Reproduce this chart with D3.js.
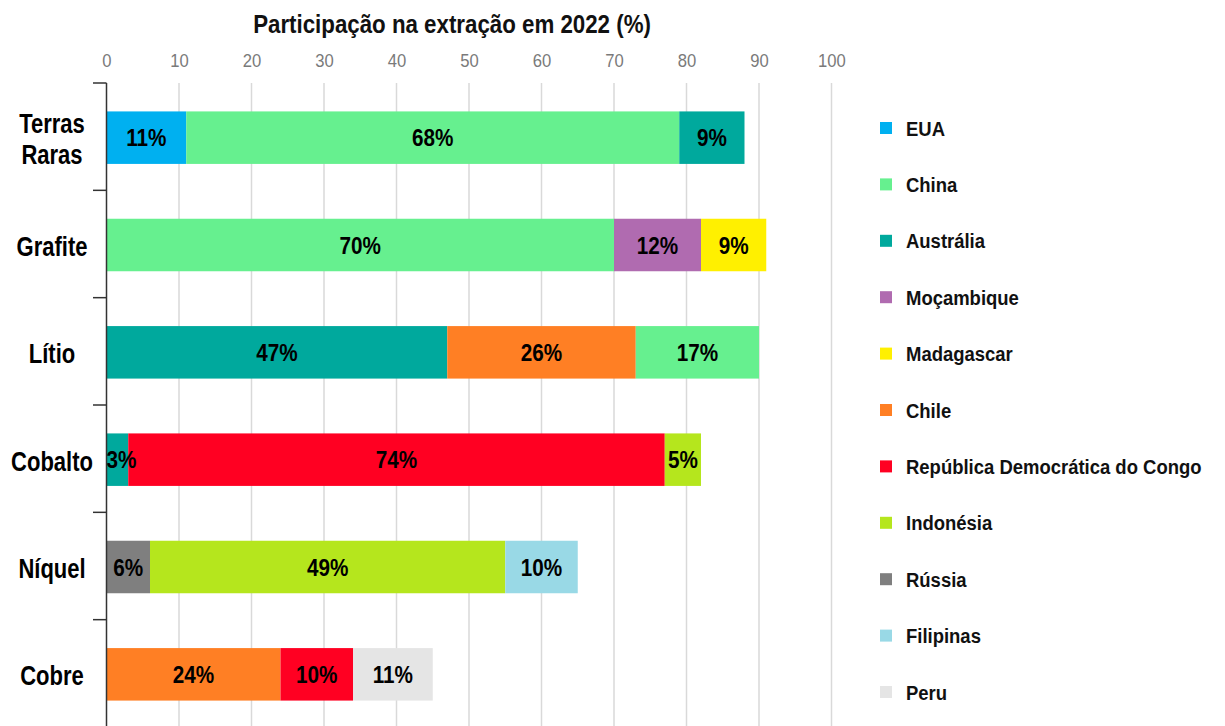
<!DOCTYPE html>
<html>
<head>
<meta charset="utf-8">
<script src="https://cdn.jsdelivr.net/npm/d3@7"></script>
<style>
  body { margin: 0; background: #fff; }
  svg { display: block; font-family: "Liberation Sans", Arial, sans-serif; }
</style>
</head>
<body>
<svg id="chart" width="1225" height="726"></svg>
<script>
// minerals (rows, top to bottom)
var minerals = ["Terras Raras", "Grafite", "Lítio", "Cobalto", "Níquel", "Cobre"];

// legend countries and their colours
var countries = ["EUA", "China", "Austrália", "Moçambique", "Madagascar", "Chile",
                 "República Democrática do Congo", "Indonésia", "Rússia", "Filipinas", "Peru"];
var countryColors = ["#00b0f0", "#66f08f", "#00a99d", "#b06bb0", "#fff000", "#ff7f24",
                     "#ff0022", "#b5e61d", "#7f7f7f", "#99d9e6", "#e5e5e5"];

// segments of each bar, left to right
var segCountries = [
    ["EUA", "China", "Austrália"],
    ["China", "Moçambique", "Madagascar"],
    ["Austrália", "Chile", "China"],
    ["Austrália", "República Democrática do Congo", "Indonésia"],
    ["Rússia", "Indonésia", "Filipinas"],
    ["Chile", "República Democrática do Congo", "Peru"]
];
var segValues = [
    [11, 68, 9],
    [70, 12, 9],
    [47, 26, 17],
    [3, 74, 5],
    [6, 49, 10],
    [24, 10, 11]
];

var xTicks = [0, 10, 20, 30, 40, 50, 60, 70, 80, 90, 100];

var svg = d3.select("#chart");

// the original text is set in a narrow face, so squeeze it a bit
function squeeze(x, y, s) {
    return "translate(" + x + "," + y + ") scale(" + s + ",1)";
}

var x = d3.scaleLinear().domain([0, 100]).range([106.5, 831.5]);
var rows = d3.scaleBand().domain(minerals).range([83, 727]).paddingInner(0).paddingOuter(0);
var barH = 52.5;

var color = d3.scaleOrdinal().domain(countries).range(countryColors);

// gridlines
svg.append("g")
    .selectAll("line")
    .data(xTicks.slice(1))
    .enter().append("line")
    .attr("x1", function(d) { return x(d); })
    .attr("x2", function(d) { return x(d); })
    .attr("y1", 83)
    .attr("y2", 727)
    .attr("stroke", "#d9d9d9")
    .attr("stroke-width", 1.5);

// top axis labels
var xAxis = svg.append("g")
    .attr("transform", "translate(0,67)")
    .call(d3.axisTop(x).tickValues(xTicks).tickSize(0).tickPadding(0));
xAxis.select(".domain").remove();
xAxis.selectAll("text")
    .attr("fill", "#7a7a7a")
    .attr("transform", "scale(0.9,1)")
    .style("font-family", "'Liberation Sans', Arial, sans-serif")
    .style("font-size", "18.5px");

// title
svg.append("text")
    .attr("transform", squeeze(452, 33, 0.875))
    .attr("text-anchor", "middle")
    .attr("font-weight", "bold")
    .attr("font-size", "25.5px")
    .attr("fill", "#111")
    .text("Participação na extração em 2022 (%)");

// bars
var rowG = svg.append("g")
    .selectAll("g")
    .data(minerals)
    .enter().append("g")
    .attr("transform", function(d) {
        return "translate(0," + (rows(d) + rows.bandwidth() / 2 - barH / 2 + 1) + ")";
    });

rowG.each(function(m, i) {
    var acc = 0;
    var segs = segValues[i].map(function(v, j) {
        var s = {country: segCountries[i][j], x0: acc, x1: acc + v, value: v};
        acc += v;
        return s;
    });
    var g = d3.select(this);
    g.selectAll("rect")
        .data(segs)
        .enter().append("rect")
        .attr("x", function(d) { return x(d.x0); })
        .attr("width", function(d) { return x(d.x1) - x(d.x0); })
        .attr("y", 0)
        .attr("height", barH)
        .attr("fill", function(d) { return color(d.country); });
    g.selectAll("text")
        .data(segs)
        .enter().append("text")
        .attr("transform", function(d) {
            var cx = (x(d.x0) + x(d.x1)) / 2;
            // very thin segments: label starts at the bar's left edge
            if (x(d.x1) - x(d.x0) < 30) cx = Math.max(cx, x(d.x0) + 15);
            return squeeze(cx, barH / 2 + 8.5, 0.9);
        })
        .attr("text-anchor", "middle")
        .attr("font-weight", "bold")
        .attr("font-size", "23px")
        .attr("fill", "#000")
        .text(function(d) { return d.value + "%"; });
});

// y axis line and boundary ticks
svg.append("line")
    .attr("x1", 106.5).attr("x2", 106.5)
    .attr("y1", 83).attr("y2", 727)
    .attr("stroke", "#333").attr("stroke-width", 1.5);
svg.append("g")
    .selectAll("line")
    .data(minerals)
    .enter().append("line")
    .attr("x1", 93).attr("x2", 106.5)
    .attr("y1", function(d) { return rows(d); })
    .attr("y2", function(d) { return rows(d); })
    .attr("stroke", "#333").attr("stroke-width", 1.5);

// category labels
svg.append("g")
    .selectAll("text")
    .data(minerals)
    .enter().append("text")
    .attr("transform", function(d) {
        return squeeze(52, rows(d) + rows.bandwidth() / 2 + 2, 0.8);
    })
    .attr("text-anchor", "middle")
    .attr("font-weight", "bold")
    .attr("font-size", "27.5px")
    .attr("fill", "#000")
    .each(function(d) {
        var words = d === "Terras Raras" ? ["Terras", "Raras"] : [d];
        var t = d3.select(this);
        words.forEach(function(w, k) {
            t.append("tspan")
                .attr("x", 0)
                .attr("dy", k === 0 ? (0.36 - (words.length - 1) * 0.55) + "em" : "1.1em")
                .text(w);
        });
    });

// legend
var leg = svg.append("g")
    .selectAll("g")
    .data(countries)
    .enter().append("g")
    .attr("transform", function(d, i) { return "translate(880," + (128 + i * 56.4) + ")"; });
leg.append("rect")
    .attr("x", 0).attr("y", -6)
    .attr("width", 12).attr("height", 12)
    .attr("fill", function(d) { return color(d); });
leg.append("text")
    .attr("transform", squeeze(26, 7.5, 0.88))
    .attr("font-weight", "bold")
    .attr("font-size", "21px")
    .attr("fill", "#111")
    .text(function(d) { return d; });
</script>
</body>
</html>
